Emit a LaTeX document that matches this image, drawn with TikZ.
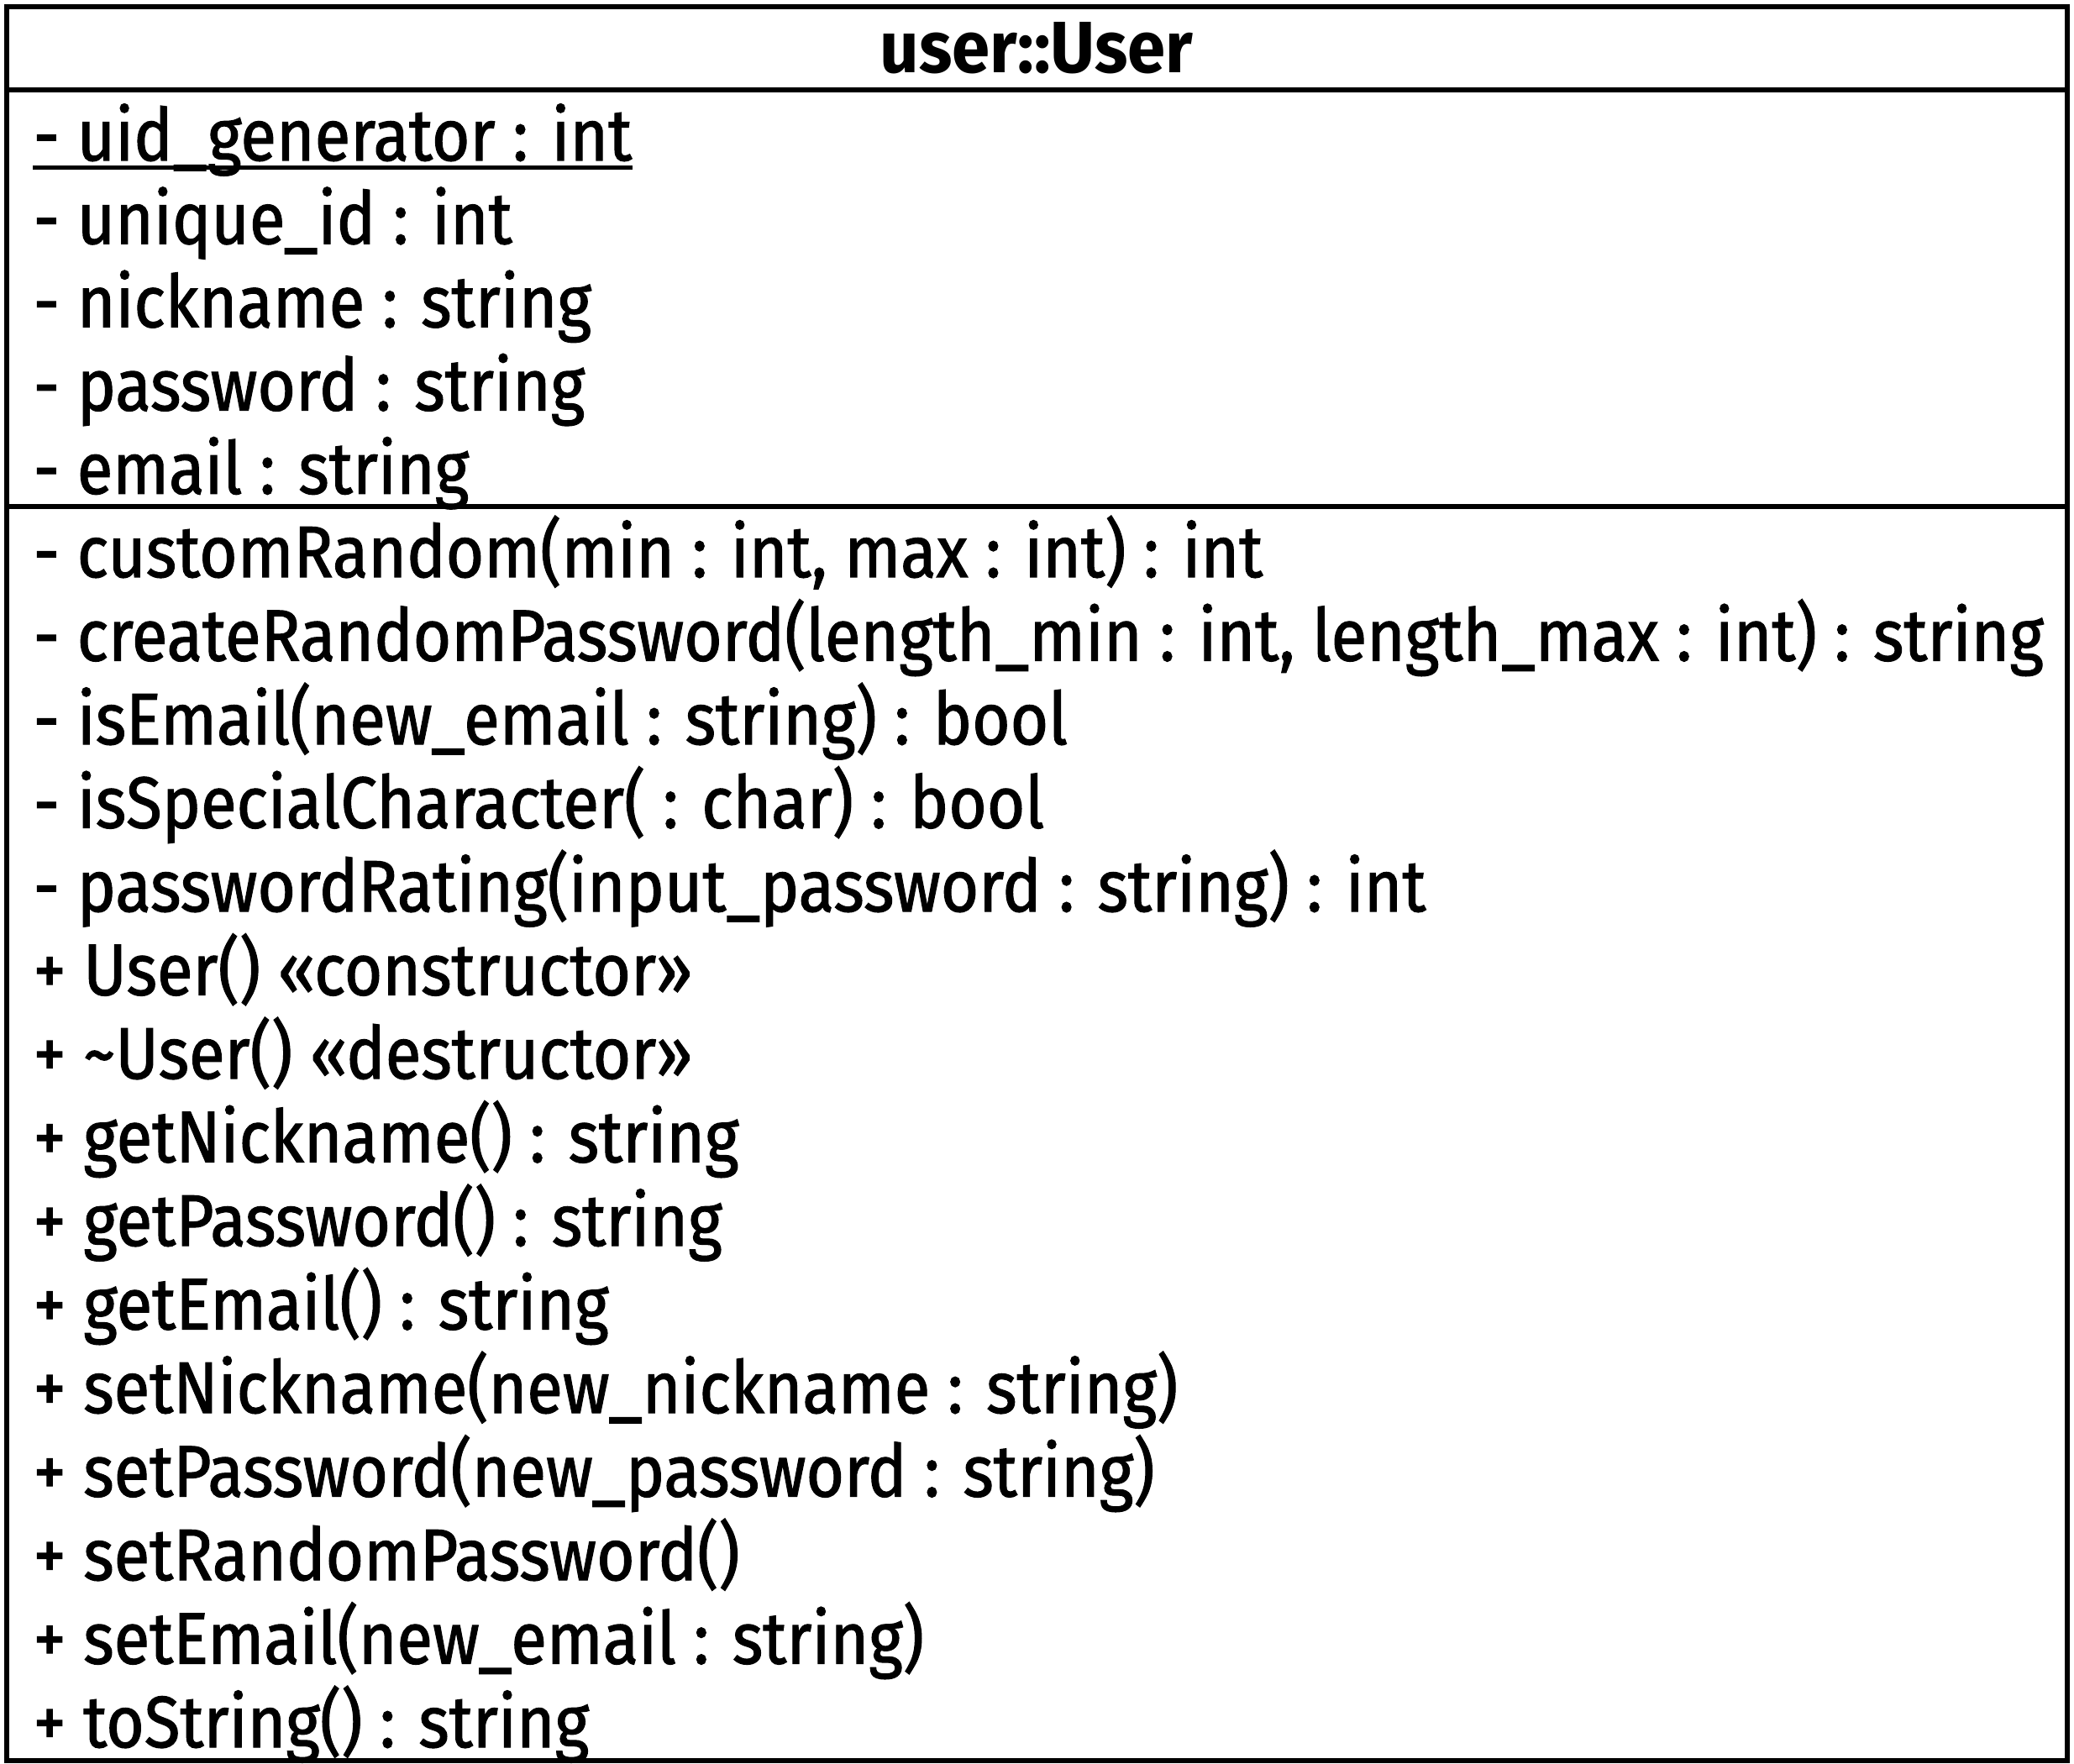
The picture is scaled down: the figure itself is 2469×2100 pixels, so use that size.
\documentclass[tikz,border=0pt]{standalone}
\usepackage{fontspec}
\setmainfont{Fira Sans}[FakeStretch=0.9, UprightFeatures={FakeBold=1.3}]
\newfontfamily\titlefont{Fira Sans}[FakeStretch=0.94]
\begin{document}
\begin{tikzpicture}[x=0.3pt,y=-0.3pt,
  member/.style={anchor=base west, inner sep=0pt, font=\fontsize{26}{30}\selectfont},
  classtitle/.style={anchor=base, inner sep=0pt, font=\titlefont\fontsize{26}{30}\selectfont\bfseries},
  frame/.style={line width=1.7pt, draw=black}]
\useasboundingbox (0,0) rectangle (2469,2100);
\fill[white] (0,0) rectangle (2469,2100);
\draw[frame] (8,8) rectangle (2461,2096);
\coordinate (s1l) at (8,107); \coordinate (s1r) at (2461,107);
\coordinate (s2l) at (8,603); \coordinate (s2r) at (2461,603);
\draw[frame] (s1l) -- (s1r);
\draw[frame] (s2l) -- (s2r);
\node[classtitle] (title) at (1234,87) {user::User};
% attributes
\node[member] (a1) at (39,191) {- uid\_generator : int};
\node[member] (a2) at (39,290.2) {- unique\_id : int};
\node[member] (a3) at (39,389.4) {- nickname : string};
\node[member] (a4) at (39,488.6) {- password : string};
\node[member] (a5) at (39,587.8) {- email : string};
\draw[line width=1.5pt] ([yshift=-2.7pt]a1.base west) -- ([yshift=-2.7pt]a1.base east);
% methods
\node[member] (m1) at (39,687) {- customRandom(min : int, max : int) : int};
\node[member] (m2) at (39,786.5) {- createRandomPassword(length\_min : int, length\_max : int) : string};
\node[member] (m3) at (39,886) {- isEmail(new\_email : string) : bool};
\node[member] (m4) at (39,985.5) {- isSpecialCharacter( : char) : bool};
\node[member] (m5) at (39,1085) {- passwordRating(input\_password : string) : int};
\node[member] (m6) at (39,1184.5) {+ User() «constructor»};
\node[member] (m7) at (39,1284) {+ \textasciitilde User() «destructor»};
\node[member] (m8) at (39,1383.5) {+ getNickname() : string};
\node[member] (m9) at (39,1483) {+ getPassword() : string};
\node[member] (m10) at (39,1582.5) {+ getEmail() : string};
\node[member] (m11) at (39,1682) {+ setNickname(new\_nickname : string)};
\node[member] (m12) at (39,1781.5) {+ setPassword(new\_password : string)};
\node[member] (m13) at (39,1881) {+ setRandomPassword()};
\node[member] (m14) at (39,1980.5) {+ setEmail(new\_email : string)};
\node[member] (m15) at (39,2080) {+ toString() : string};
\end{tikzpicture}
\end{document}
